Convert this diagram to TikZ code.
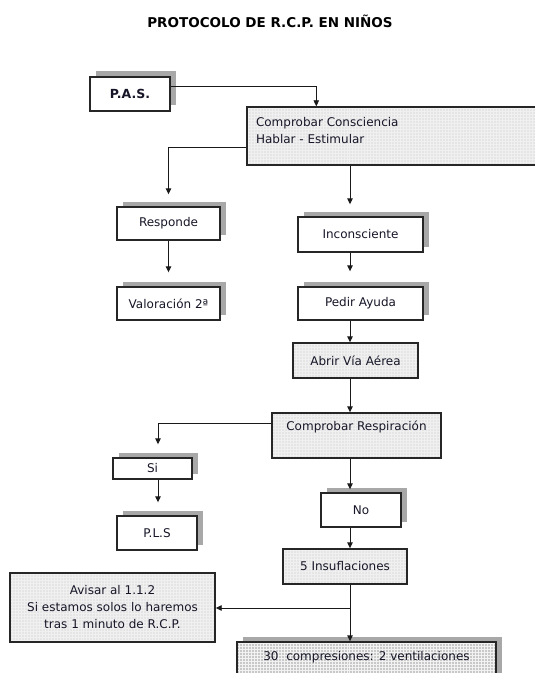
\documentclass[tikz,border=0pt]{standalone}
\usepackage{fontspec}
\setmainfont{DejaVu Sans}
\usetikzlibrary{arrows.meta,shadows,patterns,calc}
\definecolor{txt}{RGB}{22,22,40}
\definecolor{boxgray}{RGB}{229,229,229}
\definecolor{midgray}{RGB}{200,200,200}
\definecolor{shgray}{RGB}{168,168,168}
\begin{document}
\begin{tikzpicture}[x=1bp,y=-1bp,
  base/.style={draw=black!85, line width=1.4bp, inner sep=0pt, text=txt,
    font=\fontsize{12bp}{17bp}\selectfont, align=center},
  sh/.style={general shadow={fill=shgray, shadow xshift=5.5bp, shadow yshift=5.5bp}},
  wbox/.style={base, fill=white, sh},
  gbox/.style={base, preaction={fill=boxgray}, pattern=grid, pattern color=black!6},
  dbox/.style={base, sh, preaction={fill=midgray}, pattern=grid, pattern color=black!5},
  conn/.style={line width=0.9bp, draw=black!90, -{Triangle[length=6bp,width=5.5bp]}},
  plain/.style={line width=0.9bp, draw=black!90}
]
\useasboundingbox (0,0) rectangle (535,673);
\fill[white] (0,0) rectangle (535,673);

% title
\node[text=black, font=\fontsize{13.5bp}{16bp}\selectfont\bfseries] (title) at (270,21) {PROTOCOLO DE R.C.P. EN NIÑOS};

% spine coordinates
\coordinate (sp) at (350,0);
\coordinate (lsp) at (158,0);
\coordinate (br) at (350,608);

% nodes
\node[wbox, minimum width=80bp, minimum height=34bp, font=\fontsize{12.5bp}{15bp}\selectfont\bfseries] (pas) at (130,94) {P.A.S.};
\node[gbox, minimum width=298bp, minimum height=58bp] (cc) at (396,136)
  {\parbox[c][37bp][t]{280bp}{Comprobar Consciencia\\Hablar - Estimular}};
\node[wbox, minimum width=103bp, minimum height=33bp] (resp) at (168.5,223.5) {Responde};
\node[wbox, minimum width=103bp, minimum height=33bp] (val) at (168.5,303.5) {Valoración 2ª};
\node[wbox, minimum width=125bp, minimum height=35bp] (inc) at (360.5,234.5) {Inconsciente};
\node[wbox, minimum width=125bp, minimum height=33bp] (ped) at (360.5,303.5) {Pedir Ayuda};
\node[gbox, minimum width=125bp, minimum height=35bp] (abr) at (355.5,360.5) {Abrir Vía Aérea};
\node[gbox, minimum width=169bp, minimum height=45bp, text height=10bp, text depth=20bp] (cr) at (356.5,435.5) {Comprobar Respiración};
\node[wbox, minimum width=79bp, minimum height=21bp] (si) at (152.5,468.5) {Si};
\node[wbox, minimum width=80bp, minimum height=34bp] (pls) at (157,533) {P.L.S};
\node[wbox, minimum width=80bp, minimum height=34bp] (no) at (361,510) {No};
\node[gbox, minimum width=124bp, minimum height=35bp] (ins) at (345,566.5) {5 Insuflaciones};
\node[gbox, minimum width=205bp, minimum height=69bp] (av) at (112.5,607.5)
  {Avisar al 1.1.2\\Si estamos solos lo haremos\\tras 1 minuto de R.C.P.};
\node[dbox, minimum width=259bp, minimum height=36bp, text height=9bp, text depth=9bp] (comp) at (366.5,660) {30~ compresiones: 2 ventilaciones};

% connectors
\draw[conn] ($(pas.north east)+(0,10)$) -| ($(cc.north west)+(70,0)$);
\draw[conn, shorten >=12bp] ($(cc.north west)+(0,41)$) -| (resp.north);
\draw[conn, shorten >=12bp] (cc.south -| sp) -- (inc.north -| sp);
\draw[conn, shorten >=14bp] (resp.south) -- (val.north);
\draw[conn, shorten >=15bp] (inc.south -| sp) -- (ped.north -| sp);
\draw[conn] (ped.south -| sp) -- (abr.north -| sp);
\draw[conn] (abr.south -| sp) -- (cr.north -| sp);
\draw[conn, shorten >=13bp] ($(cr.north west)+(0,11)$) -| (si.north -| lsp);
\draw[conn, shorten >=13bp] (si.south -| lsp) -- (pls.north -| lsp);
\draw[conn, shorten >=3bp] (cr.south -| sp) -- (no.north -| sp);
\draw[conn] (no.south -| sp) -- (ins.north -| sp);
\draw[conn] (ins.south -| sp) -- (comp.north -| sp);
\draw[conn] (br) -- (av.east |- br);
\end{tikzpicture}
\end{document}
